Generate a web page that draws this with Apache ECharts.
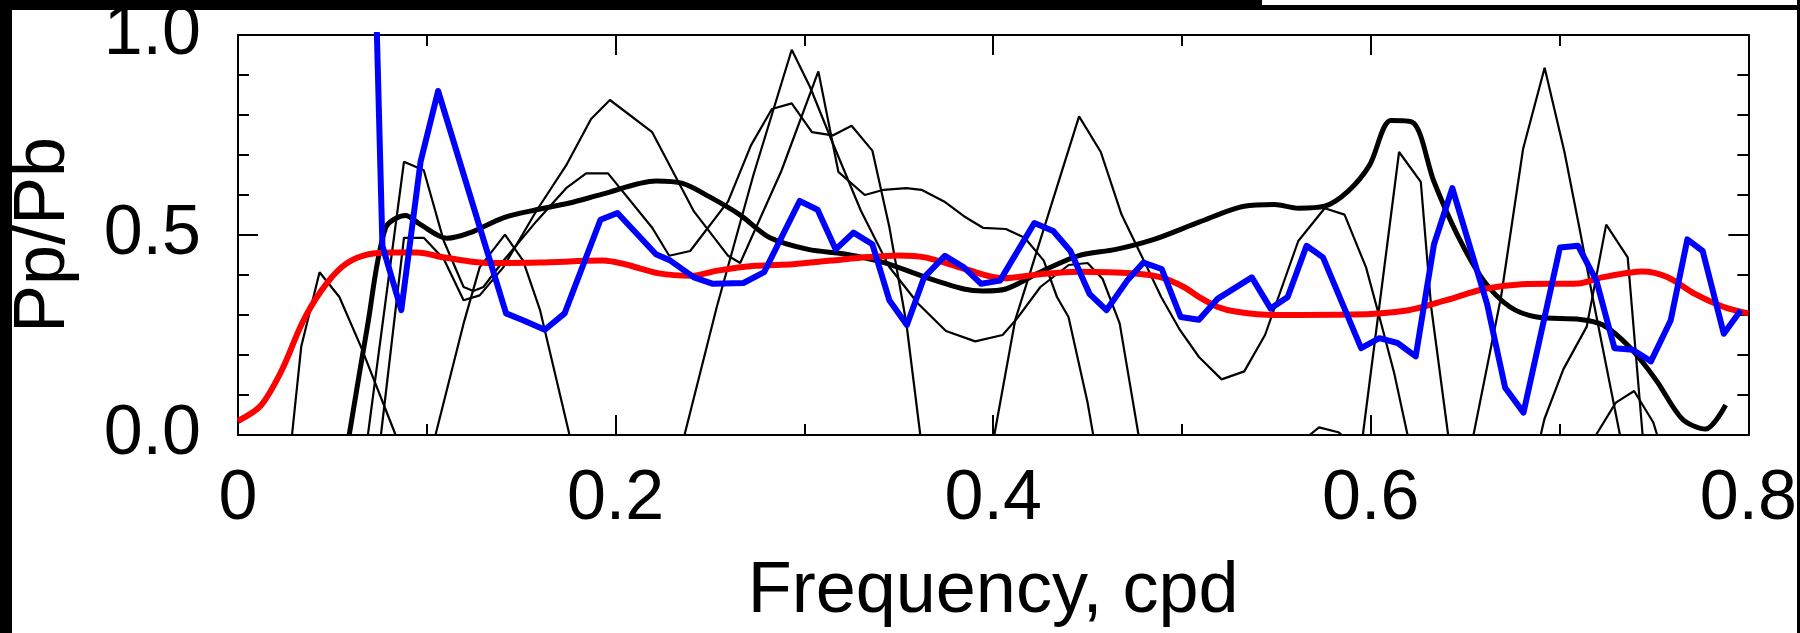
<!DOCTYPE html>
<html>
<head>
<meta charset="utf-8">
<script src="https://cdn.jsdelivr.net/npm/echarts/dist/echarts.min.js"></script>
<style>
  html, body { margin: 0; padding: 0; background: #fff; }
  #chart { width: 1800px; height: 633px; }
</style>
</head>
<body>
<div id="chart"></div>
<script>
/* ─── data: [frequency (cpd), Pp/Pb] ─── */
const xTicks = [0, 0.2, 0.4, 0.6, 0.8];
const yTicks = [0.0, 0.5, 1.0];

const redLine = [
  [0, 0.035], [0.012, 0.073], [0.023, 0.16], [0.034, 0.28], [0.044, 0.36],
  [0.055, 0.42], [0.066, 0.448], [0.081, 0.456], [0.095, 0.456], [0.109, 0.444],
  [0.123, 0.434], [0.135, 0.43], [0.16, 0.431], [0.193, 0.436], [0.205, 0.427],
  [0.223, 0.404], [0.24, 0.398], [0.254, 0.411], [0.274, 0.423], [0.294, 0.427],
  [0.314, 0.436], [0.334, 0.445], [0.35, 0.449], [0.364, 0.444], [0.385, 0.415],
  [0.405, 0.392], [0.425, 0.402], [0.445, 0.408], [0.475, 0.404], [0.489, 0.394],
  [0.501, 0.37], [0.509, 0.345], [0.519, 0.32], [0.529, 0.308], [0.549, 0.3],
  [0.59, 0.301], [0.62, 0.312], [0.64, 0.337], [0.66, 0.365], [0.68, 0.377],
  [0.71, 0.379], [0.7225, 0.394], [0.744, 0.409], [0.757, 0.395], [0.772, 0.352],
  [0.787, 0.32], [0.8, 0.304]
];

const blueLine = [
  [0.0733, 1.05], [0.0765, 0.473], [0.0865, 0.312], [0.0967, 0.683], [0.106, 0.86],
  [0.142, 0.304], [0.151, 0.287], [0.1625, 0.263], [0.173, 0.304], [0.192, 0.538],
  [0.201, 0.555], [0.2214, 0.452], [0.229, 0.436], [0.2415, 0.394], [0.2516, 0.378],
  [0.2677, 0.38], [0.2787, 0.407], [0.2975, 0.585], [0.307, 0.563], [0.3166, 0.464],
  [0.326, 0.506], [0.336, 0.477], [0.345, 0.337], [0.3543, 0.275], [0.3634, 0.394],
  [0.3744, 0.448], [0.3845, 0.419], [0.3936, 0.378], [0.4036, 0.386], [0.4218, 0.53],
  [0.4318, 0.51], [0.4409, 0.46], [0.451, 0.353], [0.46, 0.312], [0.471, 0.386],
  [0.4796, 0.431], [0.4893, 0.415], [0.4993, 0.295], [0.509, 0.288], [0.519, 0.341],
  [0.537, 0.394], [0.547, 0.316], [0.556, 0.345], [0.566, 0.473], [0.5747, 0.444],
  [0.5949, 0.217], [0.6046, 0.242], [0.6142, 0.23], [0.6238, 0.1965], [0.6335, 0.477],
  [0.6432, 0.617], [0.6616, 0.328], [0.6712, 0.118], [0.6809, 0.056], [0.7002, 0.4685],
  [0.7098, 0.473], [0.7195, 0.386], [0.7291, 0.217], [0.7388, 0.213], [0.7484, 0.184],
  [0.7589, 0.287], [0.7677, 0.489], [0.7758, 0.46], [0.787, 0.253], [0.796, 0.312]
];

const meanLine = [
  [0.0589, 0], [0.0685, 0.27], [0.0782, 0.518], [0.0888, 0.549], [0.0967, 0.526],
  [0.1107, 0.492], [0.123, 0.506], [0.1405, 0.543], [0.158, 0.563], [0.1756, 0.58],
  [0.193, 0.602], [0.2214, 0.635], [0.2355, 0.629], [0.2496, 0.596], [0.2657, 0.551],
  [0.2818, 0.493], [0.302, 0.464], [0.322, 0.452], [0.3422, 0.431], [0.3644, 0.394],
  [0.3845, 0.365], [0.3946, 0.36], [0.4067, 0.365], [0.4248, 0.407], [0.445, 0.448],
  [0.465, 0.464], [0.4852, 0.489], [0.509, 0.532], [0.533, 0.572], [0.549, 0.576],
  [0.5616, 0.567], [0.5756, 0.572], [0.5879, 0.609], [0.5993, 0.674], [0.6107, 0.786],
  [0.622, 0.782], [0.6335, 0.633], [0.6458, 0.501], [0.6598, 0.386], [0.6738, 0.32],
  [0.6879, 0.295], [0.711, 0.289], [0.723, 0.275], [0.7368, 0.221], [0.7509, 0.139],
  [0.765, 0.04], [0.7774, 0.015], [0.788, 0.075]
];

/* thin black traces (each piece between zero crossings) */
const thinA = [[0.0286, 0], [0.0335, 0.221], [0.0432, 0.407], [0.0537, 0.345], [0.0651, 0.221], [0.0835, 0]];
const thinB = [
  [0.0688, 0], [0.0879, 0.683], [0.0984, 0.662], [0.109, 0.485], [0.1195, 0.37],
  [0.1247, 0.36], [0.13, 0.37], [0.1405, 0.435], [0.158, 0.534], [0.1738, 0.617],
  [0.1844, 0.654], [0.196, 0.654], [0.2194, 0.518], [0.2284, 0.448], [0.2395, 0.46],
  [0.2596, 0.584], [0.2717, 0.724], [0.2828, 0.815], [0.2933, 0.829], [0.304, 0.757],
  [0.315, 0.749], [0.325, 0.773], [0.336, 0.711], [0.345, 0.52], [0.354, 0.28], [0.3614, 0]
];
const thinC = [
  [0.0757, 0], [0.0879, 0.493], [0.0984, 0.493], [0.109, 0.44], [0.1195, 0.337],
  [0.128, 0.349], [0.1405, 0.419], [0.158, 0.56], [0.1738, 0.674], [0.187, 0.79],
  [0.197, 0.8375], [0.2194, 0.757], [0.2415, 0.559], [0.2596, 0.448], [0.266, 0.43],
  [0.2878, 0.66], [0.3074, 0.909], [0.318, 0.658], [0.332, 0.6], [0.342, 0.613],
  [0.354, 0.617], [0.362, 0.613], [0.374, 0.584], [0.3845, 0.547], [0.3946, 0.518],
  [0.4067, 0.515], [0.4167, 0.493], [0.4268, 0.436], [0.4338, 0.345], [0.4399, 0.295],
  [0.45, 0.081], [0.453, 0]
];
const thinD = [
  [0.2365, 0], [0.2536, 0.32], [0.273, 0.65], [0.2933, 0.963], [0.303, 0.87],
  [0.315, 0.73], [0.33, 0.56], [0.345, 0.42], [0.3603, 0.328], [0.375, 0.26],
  [0.3905, 0.234], [0.405, 0.25], [0.4126, 0.291], [0.425, 0.37], [0.44, 0.425],
  [0.45, 0.43], [0.458, 0.39], [0.467, 0.279], [0.477, 0]
];
const thinE = [[0.1046, 0], [0.1195, 0.279], [0.128, 0.419], [0.1414, 0.501], [0.151, 0.436], [0.16, 0.312], [0.1756, 0]];
const thinF = [
  [0.4006, 0], [0.4117, 0.288], [0.4455, 0.7965], [0.457, 0.7075], [0.468, 0.551],
  [0.479, 0.444], [0.489, 0.345], [0.499, 0.262], [0.509, 0.195], [0.521, 0.139],
  [0.533, 0.159], [0.544, 0.25], [0.5616, 0.485], [0.5756, 0.567], [0.5861, 0.551],
  [0.5975, 0.419], [0.6046, 0.295], [0.6124, 0.155], [0.6195, 0]
];
const thinG = [[0.5958, 0], [0.615, 0.7075], [0.6265, 0.633], [0.632, 0.32], [0.641, 0]];
const thinH = [[0.6544, 0], [0.669, 0.345], [0.6807, 0.7157], [0.6921, 0.918], [0.7026, 0.7075], [0.7105, 0.518], [0.7175, 0.345], [0.732, 0]];
const thinI = [[0.69, 0], [0.692, 0.04], [0.702, 0.164], [0.7144, 0.271], [0.7247, 0.526], [0.7361, 0.444], [0.744, 0]];
const thinJ = [[0.7193, 0], [0.7298, 0.081], [0.7395, 0.11], [0.7496, 0.032], [0.7517, 0]];
const thinK = [[0.5676, 0], [0.5726, 0.019], [0.5828, 0.007], [0.5847, 0]];

const thinTraces = [thinA, thinB, thinC, thinD, thinE, thinF, thinG, thinH, thinI, thinJ, thinK];

/* ─── chart ─── */
const FONT = '"Liberation Sans", Arial, sans-serif';
const AX = { color: "#000", width: 2 };

function xAxis(pos, labels) {
  return {
    type: "value", position: pos,
    min: xTicks[0], max: xTicks[xTicks.length - 1], interval: 0.2,
    axisLine: { show: true, onZero: false, lineStyle: AX },
    axisTick: { show: true, inside: true, length: 20, lineStyle: AX },
    minorTick: { show: true, splitNumber: 2, length: 11, lineStyle: AX },
    splitLine: { show: false },
    axisLabel: labels
      ? { show: true, margin: 30, color: "#000", fontSize: 70, fontFamily: FONT,
          formatter: (v) => String(Math.round(v * 10) / 10) }
      : { show: false },
    name: labels ? "Frequency, cpd" : "",
    nameLocation: "middle", nameGap: 121,
    nameTextStyle: { color: "#000", fontSize: 72, fontFamily: FONT },
  };
}

function yAxis(pos, labels) {
  return {
    type: "value", position: pos,
    min: yTicks[0], max: yTicks[yTicks.length - 1], interval: 0.5,
    axisLine: { show: true, onZero: false, lineStyle: AX },
    axisTick: { show: true, inside: true, length: 20, lineStyle: AX },
    minorTick: { show: true, splitNumber: 5, length: 11, lineStyle: AX },
    splitLine: { show: false },
    axisLabel: labels
      ? { show: true, margin: 37, color: "#000", fontSize: 70, fontFamily: FONT,
          formatter: (v) => v.toFixed(1) }
      : { show: false },
    name: labels ? "Pp/Pb" : "",
    nameLocation: "middle", nameGap: 158, nameRotate: 90,
    nameTextStyle: { color: "#000", fontSize: 72, fontFamily: FONT },
  };
}

const series = [
  ...thinTraces.map((d) => ({
    type: "line", xAxisIndex: 0, yAxisIndex: 0, data: d, showSymbol: false, clip: true,
    lineStyle: { color: "#000", width: 2.2 }, z: 2,
  })),
  { type: "line", data: meanLine, showSymbol: false, clip: true, smooth: 0.3,
    lineStyle: { color: "#000", width: 5 }, z: 3 },
  { type: "line", data: redLine, showSymbol: false, clip: true, smooth: 0.3,
    lineStyle: { color: "#ff0000", width: 6 }, z: 4 },
  { type: "line", data: blueLine, showSymbol: false, clip: true,
    lineStyle: { color: "#0000ff", width: 6, join: "round" }, z: 5 },
];

const chart = echarts.init(document.getElementById("chart"), null, { renderer: "canvas" });
chart.setOption({
  animation: false,
  backgroundColor: "#fff",
  textStyle: { fontFamily: FONT },
  grid: { left: 233, right: 47, top: 35, bottom: 193.5 },
  xAxis: [xAxis("bottom", true), xAxis("top", false)],
  yAxis: [yAxis("left", true), yAxis("right", false)],
  series,
  graphic: [
    // black edges of the cropped figure
    { type: "rect", z: 100, shape: { x: 0, y: 0, width: 12, height: 633 }, style: { fill: "#000" } },
    { type: "rect", z: 100, shape: { x: 0, y: 0, width: 1262, height: 10 }, style: { fill: "#000" } },
    { type: "rect", z: 100, shape: { x: 1262, y: 5, width: 538, height: 5 }, style: { fill: "#000" } },
    { type: "rect", z: 100, shape: { x: 1797, y: 0, width: 3, height: 633 }, style: { fill: "#000" } },
  ],
});
</script>
</body>
</html>
